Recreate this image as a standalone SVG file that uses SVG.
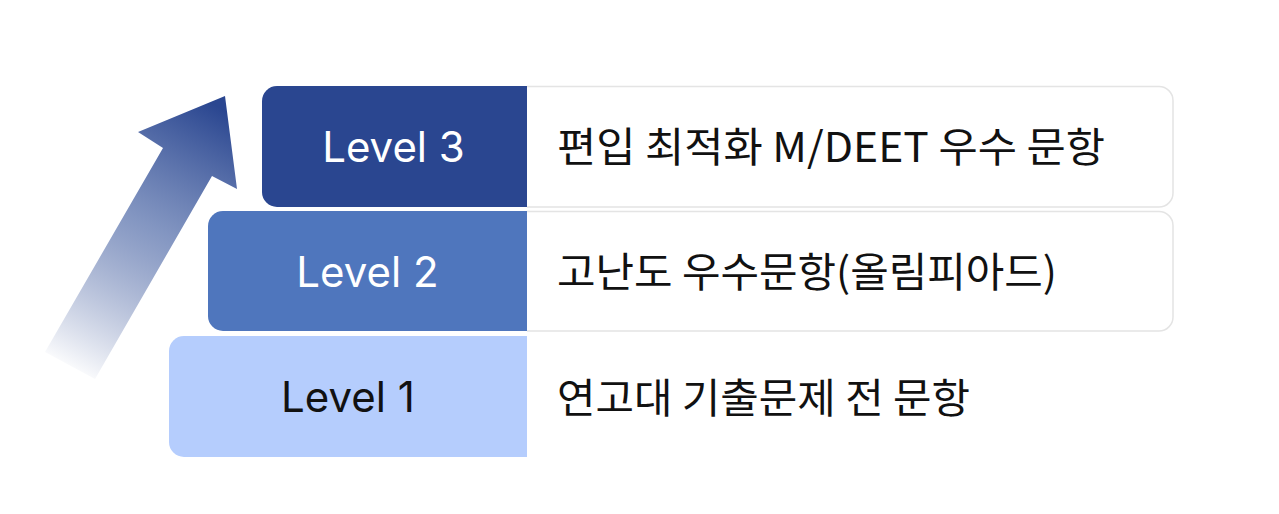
<svg xmlns="http://www.w3.org/2000/svg" width="1279" height="514" viewBox="0 0 1279 514">
  <style>
    .lvl { font-family: Inter, "Noto Sans CJK KR", sans-serif; font-size: 42px; text-anchor: middle; }
    .desc { font-family: "Noto Sans CJK KR", "Noto Sans", sans-serif; font-size: 41px; fill: #111111; }
    .card { fill: #ffffff; stroke: #e4e4e4; stroke-width: 1.5; }
  </style>
  <defs>
    <linearGradient id="arrowGrad" gradientUnits="userSpaceOnUse" x1="215" y1="105" x2="68" y2="372">
      <stop offset="0" stop-color="#2a4690" stop-opacity="1"/>
      <stop offset="0.45" stop-color="#5a73ad" stop-opacity="0.75"/>
      <stop offset="1" stop-color="#2a4690" stop-opacity="0"/>
    </linearGradient>
  </defs>
  <rect width="1279" height="514" fill="#ffffff"/>

  <g id="arrow">
    <polygon points="225,96 237,189 212,176 95,379 45,352 163,148 138,132" fill="url(#arrowGrad)"/>
  </g>

  <g id="connectors"></g>

  <g id="level3">
    <path class="card" d="M527,86.5 H1159 a14,14 0 0 1 14,14 V193 a14,14 0 0 1 -14,14 H527"/>
    <path d="M277,86 H527 V207 H277 a15,15 0 0 1 -15,-15 V101 a15,15 0 0 1 15,-15 Z" fill="#2a4690"/>
    <text class="lvl" x="393.5" y="162" fill="#ffffff">Level 3</text>
    <text class="desc" x="557" y="162" textLength="548" lengthAdjust="spacingAndGlyphs">편입 최적화 M/DEET 우수 문항</text>
  </g>

  <g id="level2">
    <path class="card" d="M527,211.5 H1159 a14,14 0 0 1 14,14 V317 a14,14 0 0 1 -14,14 H527"/>
    <path d="M223,211 H527 V331 H223 a15,15 0 0 1 -15,-15 V226 a15,15 0 0 1 15,-15 Z" fill="#4f76bd"/>
    <text class="lvl" x="367.5" y="286.5" fill="#ffffff">Level 2</text>
    <text class="desc" x="557" y="287" textLength="500" lengthAdjust="spacingAndGlyphs">고난도 우수문항(올림피아드)</text>
  </g>

  <g id="level1">
    <path d="M184,336 H527 V457 H184 a15,15 0 0 1 -15,-15 V351 a15,15 0 0 1 15,-15 Z" fill="#b5cdfd"/>
    <text class="lvl" x="348" y="412" fill="#111111">Level 1</text>
    <text class="desc" x="557" y="413" textLength="413" lengthAdjust="spacingAndGlyphs">연고대 기출문제 전 문항</text>
  </g>
</svg>
